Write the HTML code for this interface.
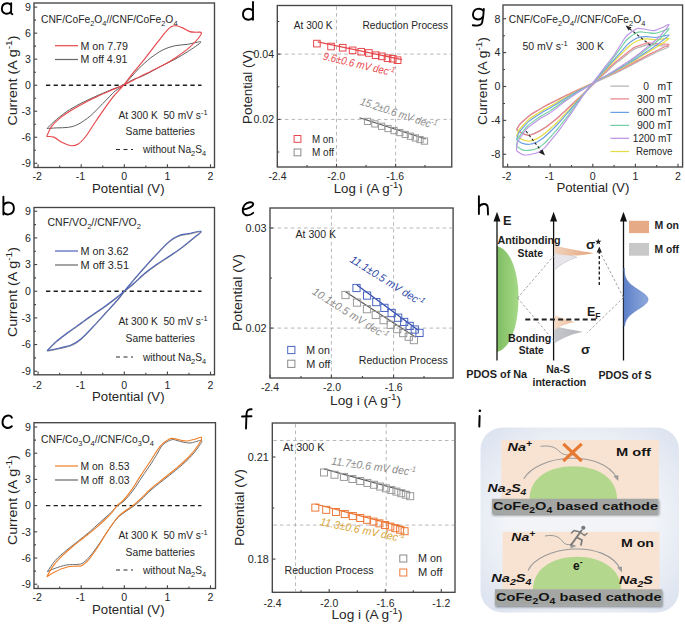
<!DOCTYPE html>
<html><head><meta charset="utf-8"><style>html,body{margin:0;padding:0;background:#fff;width:685px;height:624px;overflow:hidden}svg text{font-family:"Liberation Sans",sans-serif}</style></head><body>
<svg width="685" height="624" viewBox="0 0 685 624" style="display:block">
<rect width="685" height="624" fill="#ffffff"/>
<rect x="34" y="3" width="180.5" height="164.5" fill="none" stroke="#454545" stroke-width="1.35"/>
<line x1="38.1" y1="167.5" x2="38.1" y2="164.3" stroke="#454545" stroke-width="1.1"/>
<line x1="81.2" y1="167.5" x2="81.2" y2="164.3" stroke="#454545" stroke-width="1.1"/>
<line x1="124.3" y1="167.5" x2="124.3" y2="164.3" stroke="#454545" stroke-width="1.1"/>
<line x1="167.4" y1="167.5" x2="167.4" y2="164.3" stroke="#454545" stroke-width="1.1"/>
<line x1="210.5" y1="167.5" x2="210.5" y2="164.3" stroke="#454545" stroke-width="1.1"/>
<line x1="59.65" y1="167.5" x2="59.65" y2="165.5" stroke="#454545" stroke-width="1.1"/>
<line x1="102.75" y1="167.5" x2="102.75" y2="165.5" stroke="#454545" stroke-width="1.1"/>
<line x1="145.85" y1="167.5" x2="145.85" y2="165.5" stroke="#454545" stroke-width="1.1"/>
<line x1="188.95" y1="167.5" x2="188.95" y2="165.5" stroke="#454545" stroke-width="1.1"/>
<line x1="34" y1="163.28" x2="37.2" y2="163.28" stroke="#454545" stroke-width="1.1"/>
<line x1="34" y1="137.25" x2="37.2" y2="137.25" stroke="#454545" stroke-width="1.1"/>
<line x1="34" y1="111.23" x2="37.2" y2="111.23" stroke="#454545" stroke-width="1.1"/>
<line x1="34" y1="85.2" x2="37.2" y2="85.2" stroke="#454545" stroke-width="1.1"/>
<line x1="34" y1="59.17" x2="37.2" y2="59.17" stroke="#454545" stroke-width="1.1"/>
<line x1="34" y1="33.15" x2="37.2" y2="33.15" stroke="#454545" stroke-width="1.1"/>
<line x1="34" y1="7.12" x2="37.2" y2="7.12" stroke="#454545" stroke-width="1.1"/>
<line x1="34" y1="150.26" x2="36" y2="150.26" stroke="#454545" stroke-width="1.1"/>
<line x1="34" y1="124.24" x2="36" y2="124.24" stroke="#454545" stroke-width="1.1"/>
<line x1="34" y1="98.21" x2="36" y2="98.21" stroke="#454545" stroke-width="1.1"/>
<line x1="34" y1="72.19" x2="36" y2="72.19" stroke="#454545" stroke-width="1.1"/>
<line x1="34" y1="46.16" x2="36" y2="46.16" stroke="#454545" stroke-width="1.1"/>
<line x1="34" y1="20.14" x2="36" y2="20.14" stroke="#454545" stroke-width="1.1"/>
<text x="30.8" y="167.09" font-size="10.6" text-anchor="end" fill="#262626">-9</text>
<text x="30.8" y="141.07" font-size="10.6" text-anchor="end" fill="#262626">-6</text>
<text x="30.8" y="115.04" font-size="10.6" text-anchor="end" fill="#262626">-3</text>
<text x="30.8" y="89.02" font-size="10.6" text-anchor="end" fill="#262626">0</text>
<text x="30.8" y="62.99" font-size="10.6" text-anchor="end" fill="#262626">3</text>
<text x="30.8" y="36.97" font-size="10.6" text-anchor="end" fill="#262626">6</text>
<text x="30.8" y="10.94" font-size="10.6" text-anchor="end" fill="#262626">9</text>
<text x="37.3" y="180.12" font-size="10.6" text-anchor="middle" fill="#262626">-2</text>
<text x="80.4" y="180.12" font-size="10.6" text-anchor="middle" fill="#262626">-1</text>
<text x="124.3" y="180.12" font-size="10.6" text-anchor="middle" fill="#262626">0</text>
<text x="167.4" y="180.12" font-size="10.6" text-anchor="middle" fill="#262626">1</text>
<text x="210.5" y="180.12" font-size="10.6" text-anchor="middle" fill="#262626">2</text>
<text x="128.3" y="192.95" font-size="13.2" text-anchor="middle" fill="#262626" textLength="72.5" lengthAdjust="spacingAndGlyphs">Potential (V)</text>
<text x="17.35" y="80.5" font-size="13.2" text-anchor="middle" fill="#262626" transform="rotate(-90 17.35 80.5)" textLength="90" lengthAdjust="spacingAndGlyphs">Current (A g<tspan font-size="9.5" baseline-shift="5.02">-1</tspan>)</text>
<text x="41" y="23.09" font-size="10.8" fill="#262626" textLength="136.5" lengthAdjust="spacingAndGlyphs">CNF/CoFe<tspan font-size="7.78" baseline-shift="-3.02">2</tspan>O<tspan font-size="7.78" baseline-shift="-3.02">4</tspan>//CNF/CoFe<tspan font-size="7.78" baseline-shift="-3.02">2</tspan>O<tspan font-size="7.78" baseline-shift="-3.02">4</tspan></text>
<line x1="55" y1="45.7" x2="78" y2="45.7" stroke="#e8474c" stroke-width="1.2"/>
<text x="80.5" y="49.59" font-size="10.8" text-anchor="start" fill="#262626" textLength="47.5" lengthAdjust="spacingAndGlyphs">M on 7.79</text>
<line x1="55" y1="59.5" x2="78" y2="59.5" stroke="#666666" stroke-width="1.2"/>
<text x="80.5" y="63.39" font-size="10.8" text-anchor="start" fill="#262626" textLength="47" lengthAdjust="spacingAndGlyphs">M off 4.91</text>
<line x1="46" y1="85.2" x2="201.5" y2="85.2" stroke="#1e1e1e" stroke-width="1.4" stroke-dasharray="4.3 3.3"/>
<text x="118.5" y="118.69" font-size="10.8" fill="#262626" textLength="89" lengthAdjust="spacingAndGlyphs">At 300 K&#160;&#160;50 mV s<tspan font-size="7.78" baseline-shift="4.1">-1</tspan></text>
<text x="125.5" y="134.89" font-size="10.8" text-anchor="start" fill="#262626" textLength="69.5" lengthAdjust="spacingAndGlyphs">Same batteries</text>
<line x1="116" y1="149.5" x2="133" y2="149.5" stroke="#2a2a2a" stroke-width="1.1" stroke-dasharray="4 3.5"/>
<text x="143" y="153.39" font-size="10.8" fill="#262626" textLength="63" lengthAdjust="spacingAndGlyphs">without Na<tspan font-size="7.78" baseline-shift="-3.02">2</tspan>S<tspan font-size="7.78" baseline-shift="-3.02">4</tspan></text>
<rect x="34" y="207.5" width="180.5" height="167.3" fill="none" stroke="#454545" stroke-width="1.35"/>
<line x1="38.1" y1="374.8" x2="38.1" y2="371.6" stroke="#454545" stroke-width="1.1"/>
<line x1="81.2" y1="374.8" x2="81.2" y2="371.6" stroke="#454545" stroke-width="1.1"/>
<line x1="124.3" y1="374.8" x2="124.3" y2="371.6" stroke="#454545" stroke-width="1.1"/>
<line x1="167.4" y1="374.8" x2="167.4" y2="371.6" stroke="#454545" stroke-width="1.1"/>
<line x1="210.5" y1="374.8" x2="210.5" y2="371.6" stroke="#454545" stroke-width="1.1"/>
<line x1="59.65" y1="374.8" x2="59.65" y2="372.8" stroke="#454545" stroke-width="1.1"/>
<line x1="102.75" y1="374.8" x2="102.75" y2="372.8" stroke="#454545" stroke-width="1.1"/>
<line x1="145.85" y1="374.8" x2="145.85" y2="372.8" stroke="#454545" stroke-width="1.1"/>
<line x1="188.95" y1="374.8" x2="188.95" y2="372.8" stroke="#454545" stroke-width="1.1"/>
<line x1="34" y1="371.25" x2="37.2" y2="371.25" stroke="#454545" stroke-width="1.1"/>
<line x1="34" y1="344.58" x2="37.2" y2="344.58" stroke="#454545" stroke-width="1.1"/>
<line x1="34" y1="317.92" x2="37.2" y2="317.92" stroke="#454545" stroke-width="1.1"/>
<line x1="34" y1="291.25" x2="37.2" y2="291.25" stroke="#454545" stroke-width="1.1"/>
<line x1="34" y1="264.58" x2="37.2" y2="264.58" stroke="#454545" stroke-width="1.1"/>
<line x1="34" y1="237.92" x2="37.2" y2="237.92" stroke="#454545" stroke-width="1.1"/>
<line x1="34" y1="211.25" x2="37.2" y2="211.25" stroke="#454545" stroke-width="1.1"/>
<line x1="34" y1="357.92" x2="36" y2="357.92" stroke="#454545" stroke-width="1.1"/>
<line x1="34" y1="331.25" x2="36" y2="331.25" stroke="#454545" stroke-width="1.1"/>
<line x1="34" y1="304.58" x2="36" y2="304.58" stroke="#454545" stroke-width="1.1"/>
<line x1="34" y1="277.92" x2="36" y2="277.92" stroke="#454545" stroke-width="1.1"/>
<line x1="34" y1="251.25" x2="36" y2="251.25" stroke="#454545" stroke-width="1.1"/>
<line x1="34" y1="224.58" x2="36" y2="224.58" stroke="#454545" stroke-width="1.1"/>
<text x="30.8" y="375.07" font-size="10.6" text-anchor="end" fill="#262626">-9</text>
<text x="30.8" y="348.4" font-size="10.6" text-anchor="end" fill="#262626">-6</text>
<text x="30.8" y="321.73" font-size="10.6" text-anchor="end" fill="#262626">-3</text>
<text x="30.8" y="295.07" font-size="10.6" text-anchor="end" fill="#262626">0</text>
<text x="30.8" y="268.4" font-size="10.6" text-anchor="end" fill="#262626">3</text>
<text x="30.8" y="241.73" font-size="10.6" text-anchor="end" fill="#262626">6</text>
<text x="30.8" y="215.07" font-size="10.6" text-anchor="end" fill="#262626">9</text>
<text x="37.3" y="389.02" font-size="10.6" text-anchor="middle" fill="#262626">-2</text>
<text x="80.4" y="389.02" font-size="10.6" text-anchor="middle" fill="#262626">-1</text>
<text x="124.3" y="389.02" font-size="10.6" text-anchor="middle" fill="#262626">0</text>
<text x="167.4" y="389.02" font-size="10.6" text-anchor="middle" fill="#262626">1</text>
<text x="210.5" y="389.02" font-size="10.6" text-anchor="middle" fill="#262626">2</text>
<text x="128.3" y="400.95" font-size="13.2" text-anchor="middle" fill="#262626" textLength="72.5" lengthAdjust="spacingAndGlyphs">Potential (V)</text>
<text x="17.35" y="292" font-size="13.2" text-anchor="middle" fill="#262626" transform="rotate(-90 17.35 292)" textLength="90" lengthAdjust="spacingAndGlyphs">Current (A g<tspan font-size="9.5" baseline-shift="5.02">-1</tspan>)</text>
<text x="47.5" y="226.39" font-size="10.8" fill="#262626" textLength="93.5" lengthAdjust="spacingAndGlyphs">CNF/VO<tspan font-size="7.78" baseline-shift="-3.02">2</tspan>//CNF/VO<tspan font-size="7.78" baseline-shift="-3.02">2</tspan></text>
<line x1="55" y1="251" x2="78" y2="251" stroke="#4b62b8" stroke-width="1.2"/>
<text x="80.5" y="254.89" font-size="10.8" text-anchor="start" fill="#262626" textLength="48" lengthAdjust="spacingAndGlyphs">M on&#160;3.62</text>
<line x1="55" y1="265" x2="78" y2="265" stroke="#6a6a6a" stroke-width="1.2"/>
<text x="80.5" y="268.89" font-size="10.8" text-anchor="start" fill="#262626" textLength="48.5" lengthAdjust="spacingAndGlyphs">M off&#160;3.51</text>
<line x1="46" y1="291.25" x2="201.5" y2="291.25" stroke="#1e1e1e" stroke-width="1.4" stroke-dasharray="4.3 3.3"/>
<text x="118.5" y="325.39" font-size="10.8" fill="#262626" textLength="89" lengthAdjust="spacingAndGlyphs">At 300 K&#160;&#160;50 mV s<tspan font-size="7.78" baseline-shift="4.1">-1</tspan></text>
<text x="125.5" y="341.89" font-size="10.8" text-anchor="start" fill="#262626" textLength="69.5" lengthAdjust="spacingAndGlyphs">Same batteries</text>
<line x1="116" y1="357" x2="133" y2="357" stroke="#2a2a2a" stroke-width="1.1" stroke-dasharray="4 3.5"/>
<text x="143" y="360.89" font-size="10.8" fill="#262626" textLength="63" lengthAdjust="spacingAndGlyphs">without Na<tspan font-size="7.78" baseline-shift="-3.02">2</tspan>S<tspan font-size="7.78" baseline-shift="-3.02">4</tspan></text>
<rect x="34" y="422.7" width="181.5" height="165.8" fill="none" stroke="#454545" stroke-width="1.35"/>
<line x1="38.1" y1="588.5" x2="38.1" y2="585.3" stroke="#454545" stroke-width="1.1"/>
<line x1="81.2" y1="588.5" x2="81.2" y2="585.3" stroke="#454545" stroke-width="1.1"/>
<line x1="124.3" y1="588.5" x2="124.3" y2="585.3" stroke="#454545" stroke-width="1.1"/>
<line x1="167.4" y1="588.5" x2="167.4" y2="585.3" stroke="#454545" stroke-width="1.1"/>
<line x1="210.5" y1="588.5" x2="210.5" y2="585.3" stroke="#454545" stroke-width="1.1"/>
<line x1="59.65" y1="588.5" x2="59.65" y2="586.5" stroke="#454545" stroke-width="1.1"/>
<line x1="102.75" y1="588.5" x2="102.75" y2="586.5" stroke="#454545" stroke-width="1.1"/>
<line x1="145.85" y1="588.5" x2="145.85" y2="586.5" stroke="#454545" stroke-width="1.1"/>
<line x1="188.95" y1="588.5" x2="188.95" y2="586.5" stroke="#454545" stroke-width="1.1"/>
<line x1="34" y1="584.22" x2="37.2" y2="584.22" stroke="#454545" stroke-width="1.1"/>
<line x1="34" y1="558.02" x2="37.2" y2="558.02" stroke="#454545" stroke-width="1.1"/>
<line x1="34" y1="531.81" x2="37.2" y2="531.81" stroke="#454545" stroke-width="1.1"/>
<line x1="34" y1="505.6" x2="37.2" y2="505.6" stroke="#454545" stroke-width="1.1"/>
<line x1="34" y1="479.39" x2="37.2" y2="479.39" stroke="#454545" stroke-width="1.1"/>
<line x1="34" y1="453.18" x2="37.2" y2="453.18" stroke="#454545" stroke-width="1.1"/>
<line x1="34" y1="426.98" x2="37.2" y2="426.98" stroke="#454545" stroke-width="1.1"/>
<line x1="34" y1="571.12" x2="36" y2="571.12" stroke="#454545" stroke-width="1.1"/>
<line x1="34" y1="544.91" x2="36" y2="544.91" stroke="#454545" stroke-width="1.1"/>
<line x1="34" y1="518.7" x2="36" y2="518.7" stroke="#454545" stroke-width="1.1"/>
<line x1="34" y1="492.5" x2="36" y2="492.5" stroke="#454545" stroke-width="1.1"/>
<line x1="34" y1="466.29" x2="36" y2="466.29" stroke="#454545" stroke-width="1.1"/>
<line x1="34" y1="440.08" x2="36" y2="440.08" stroke="#454545" stroke-width="1.1"/>
<text x="30.8" y="588.04" font-size="10.6" text-anchor="end" fill="#262626">-9</text>
<text x="30.8" y="561.83" font-size="10.6" text-anchor="end" fill="#262626">-6</text>
<text x="30.8" y="535.62" font-size="10.6" text-anchor="end" fill="#262626">-3</text>
<text x="30.8" y="509.42" font-size="10.6" text-anchor="end" fill="#262626">0</text>
<text x="30.8" y="483.21" font-size="10.6" text-anchor="end" fill="#262626">3</text>
<text x="30.8" y="457" font-size="10.6" text-anchor="end" fill="#262626">6</text>
<text x="30.8" y="430.79" font-size="10.6" text-anchor="end" fill="#262626">9</text>
<text x="37.3" y="601.02" font-size="10.6" text-anchor="middle" fill="#262626">-2</text>
<text x="80.4" y="601.02" font-size="10.6" text-anchor="middle" fill="#262626">-1</text>
<text x="124.3" y="601.02" font-size="10.6" text-anchor="middle" fill="#262626">0</text>
<text x="167.4" y="601.02" font-size="10.6" text-anchor="middle" fill="#262626">1</text>
<text x="210.5" y="601.02" font-size="10.6" text-anchor="middle" fill="#262626">2</text>
<text x="128.3" y="613.95" font-size="13.2" text-anchor="middle" fill="#262626" textLength="72.5" lengthAdjust="spacingAndGlyphs">Potential (V)</text>
<text x="17.35" y="500" font-size="13.2" text-anchor="middle" fill="#262626" transform="rotate(-90 17.35 500)" textLength="90" lengthAdjust="spacingAndGlyphs">Current (A g<tspan font-size="9.5" baseline-shift="5.02">-1</tspan>)</text>
<text x="41" y="442.89" font-size="10.8" fill="#262626" textLength="113" lengthAdjust="spacingAndGlyphs">CNF/Co<tspan font-size="7.78" baseline-shift="-3.02">3</tspan>O<tspan font-size="7.78" baseline-shift="-3.02">4</tspan>//CNF/Co<tspan font-size="7.78" baseline-shift="-3.02">3</tspan>O<tspan font-size="7.78" baseline-shift="-3.02">4</tspan></text>
<line x1="55" y1="466" x2="78" y2="466" stroke="#ef7f2a" stroke-width="1.2"/>
<text x="80.5" y="469.89" font-size="10.8" text-anchor="start" fill="#262626" textLength="49" lengthAdjust="spacingAndGlyphs">M on&#160;&#160;8.53</text>
<line x1="55" y1="480" x2="78" y2="480" stroke="#6a6a6a" stroke-width="1.2"/>
<text x="80.5" y="483.89" font-size="10.8" text-anchor="start" fill="#262626" textLength="49" lengthAdjust="spacingAndGlyphs">M off&#160;&#160;8.03</text>
<line x1="46" y1="505.6" x2="201.5" y2="505.6" stroke="#1e1e1e" stroke-width="1.4" stroke-dasharray="4.3 3.3"/>
<text x="118.5" y="538.89" font-size="10.8" fill="#262626" textLength="89" lengthAdjust="spacingAndGlyphs">At 300 K&#160;&#160;50 mV s<tspan font-size="7.78" baseline-shift="4.1">-1</tspan></text>
<text x="125.5" y="555.89" font-size="10.8" text-anchor="start" fill="#262626" textLength="69.5" lengthAdjust="spacingAndGlyphs">Same batteries</text>
<line x1="116" y1="570" x2="133" y2="570" stroke="#2a2a2a" stroke-width="1.1" stroke-dasharray="4 3.5"/>
<text x="143" y="573.89" font-size="10.8" fill="#262626" textLength="63" lengthAdjust="spacingAndGlyphs">without Na<tspan font-size="7.78" baseline-shift="-3.02">2</tspan>S<tspan font-size="7.78" baseline-shift="-3.02">4</tspan></text>
<path d="M47.1,128.5 C48.63,128.4 52.73,128.1 56.3,127.9 C59.87,127.7 64.83,127.92 68.5,127.3 C72.17,126.68 74.62,126.13 78.3,124.2 C81.98,122.27 86.5,119.17 90.6,115.7 C94.7,112.23 98.82,107.5 102.9,103.4 C106.98,99.3 111.63,94.15 115.1,91.1 C118.57,88.05 119.82,88.78 123.7,85.1 C127.58,81.42 133.9,73.53 138.4,69 C142.9,64.47 146.62,61.08 150.7,57.9 C154.78,54.72 158.82,51.93 162.9,49.9 C166.98,47.87 171.12,46.62 175.2,45.7 C179.28,44.78 183.12,45.02 187.4,44.4 C191.68,43.78 200.9,40.77 200.9,42 C200.9,43.23 191.68,48.95 187.4,51.8 C183.12,54.65 179.68,56.65 175.2,59.1 C170.72,61.55 165.62,63.83 160.5,66.5 C155.38,69.17 149.2,72.85 144.5,75.1 C139.8,77.35 135.77,78.33 132.3,80 C128.83,81.67 126.77,83.65 123.7,85.1 C120.63,86.55 117.98,87.08 113.9,88.7 C109.82,90.32 104.72,92.35 99.2,94.8 C93.68,97.25 86.32,100.53 80.8,103.4 C75.28,106.27 70.6,108.93 66.1,112 C61.6,115.07 56.97,119.05 53.8,121.8 C50.63,124.55 48.22,127.38 47.1,128.5" stroke="#5e5e5e" stroke-width="1" fill="none"/>
<path d="M46.7,136.5 C47.88,136.6 51.18,136.08 53.8,137.1 C56.42,138.12 59.53,141.17 62.4,142.6 C65.27,144.03 68.35,145.48 71,145.7 C73.65,145.92 75.85,145.43 78.3,143.9 C80.75,142.37 83.25,139.57 85.7,136.5 C88.15,133.43 90.13,129.78 93,125.5 C95.87,121.22 99.62,115.5 102.9,110.8 C106.18,106.1 110.1,100.63 112.7,97.3 C115.3,93.97 116.67,92.83 118.5,90.8 C120.33,88.77 121.4,87.92 123.7,85.1 C126,82.28 128.83,78.23 132.3,73.9 C135.77,69.57 140.42,64.22 144.5,59.1 C148.58,53.98 153.12,47.9 156.8,43.2 C160.48,38.5 164.15,33.67 166.6,30.9 C169.05,28.13 169.87,27.45 171.5,26.6 C173.13,25.75 174.57,25.58 176.4,25.8 C178.23,26.02 180.25,26.93 182.5,27.9 C184.75,28.87 187.65,30.88 189.9,31.6 C192.15,32.32 194.07,32 196,32.2 C197.93,32.4 201.28,31.58 201.5,32.8 C201.72,34.02 199.43,36.95 197.3,39.5 C195.17,42.05 192.38,45.03 188.7,48.1 C185.02,51.17 179.5,55.03 175.2,57.9 C170.9,60.77 166.98,63.05 162.9,65.3 C158.82,67.55 154.78,69.37 150.7,71.4 C146.62,73.43 142.9,75.22 138.4,77.5 C133.9,79.78 128.8,82.73 123.7,85.1 C118.6,87.47 112.92,89.47 107.8,91.7 C102.68,93.93 98.52,95.73 93,98.5 C87.48,101.27 80.22,105.03 74.7,108.3 C69.18,111.57 63.78,115.03 59.9,118.1 C56.02,121.17 53.6,123.63 51.4,126.7 C49.2,129.77 47.48,134.87 46.7,136.5" stroke="#e8474c" stroke-width="1.15" fill="none"/>
<path d="M47.3,351.2 C48.83,350.9 52.52,350.32 56.5,349.4 C60.48,348.48 67.12,347.33 71.2,345.7 C75.28,344.07 77.33,342.67 81,339.6 C84.67,336.53 89.12,331.6 93.2,327.3 C97.28,323 101.4,318.3 105.5,313.8 C109.6,309.3 114.65,303.97 117.8,300.3 C120.95,296.63 121.83,295 124.4,291.8 C126.97,288.6 129.82,285.08 133.2,281.1 C136.58,277.12 140.73,272.33 144.7,267.9 C148.67,263.47 152.92,258.78 157,254.5 C161.08,250.22 165.52,245.27 169.2,242.2 C172.88,239.13 175.82,237.43 179.1,236.1 C182.38,234.77 185.23,234.92 188.9,234.2 C192.57,233.48 200.28,231.08 201.1,231.8 C201.92,232.52 197.07,235.73 193.8,238.5 C190.53,241.27 185.6,245.33 181.5,248.4 C177.4,251.47 173.28,254.15 169.2,256.9 C165.12,259.65 161.08,262.03 157,264.9 C152.92,267.77 148.67,270.82 144.7,274.1 C140.73,277.38 136.58,281.65 133.2,284.6 C129.82,287.55 127.57,289.22 124.4,291.8 C121.23,294.38 117.57,297.47 114.2,300.1 C110.83,302.73 107.7,305.1 104.2,307.6 C100.7,310.1 97.07,312.4 93.2,315.1 C89.33,317.8 85.08,320.88 81,323.8 C76.92,326.72 72.78,329.57 68.7,332.6 C64.62,335.63 60.07,338.9 56.5,342 C52.93,345.1 48.83,349.67 47.3,351.2" stroke="#8a8a8a" stroke-width="1" fill="none"/>
<path d="M47.1,350.6 C48.63,350.3 52.32,349.72 56.3,348.8 C60.28,347.88 66.92,346.73 71,345.1 C75.08,343.47 77.13,342.07 80.8,339 C84.47,335.93 88.92,331 93,326.7 C97.08,322.4 101.2,317.7 105.3,313.2 C109.4,308.7 114.45,303.37 117.6,299.7 C120.75,296.03 121.63,294.4 124.2,291.2 C126.77,288 129.62,284.48 133,280.5 C136.38,276.52 140.53,271.73 144.5,267.3 C148.47,262.87 152.72,258.18 156.8,253.9 C160.88,249.62 165.32,244.67 169,241.6 C172.68,238.53 175.62,236.83 178.9,235.5 C182.18,234.17 185.03,234.32 188.7,233.6 C192.37,232.88 200.08,230.48 200.9,231.2 C201.72,231.92 196.87,235.13 193.6,237.9 C190.33,240.67 185.4,244.73 181.3,247.8 C177.2,250.87 173.08,253.55 169,256.3 C164.92,259.05 160.88,261.43 156.8,264.3 C152.72,267.17 148.47,270.22 144.5,273.5 C140.53,276.78 136.38,281.05 133,284 C129.62,286.95 127.37,288.62 124.2,291.2 C121.03,293.78 117.37,296.87 114,299.5 C110.63,302.13 107.5,304.5 104,307 C100.5,309.5 96.87,311.8 93,314.5 C89.13,317.2 84.88,320.28 80.8,323.2 C76.72,326.12 72.58,328.97 68.5,332 C64.42,335.03 59.87,338.3 56.3,341.4 C52.73,344.5 48.63,349.07 47.1,350.6" stroke="#4b62b8" stroke-width="1.05" fill="none"/>
<path d="M47.4,571.7 C48.7,569.83 52.03,564.05 55.2,560.5 C58.37,556.95 62.65,553.58 66.4,550.4 C70.15,547.22 73.95,544.4 77.7,541.4 C81.45,538.4 85.17,535.58 88.9,532.4 C92.63,529.22 96.37,525.67 100.1,522.3 C103.83,518.93 108.47,514.92 111.3,512.2 C114.13,509.48 114.98,507.87 117.1,506 C119.22,504.13 121.35,503.58 124,501 C126.65,498.42 130,494.5 133,490.5 C136,486.5 138.92,481.58 142,477 C145.08,472.42 149.03,466.75 151.5,463 C153.97,459.25 154.9,457.55 156.8,454.5 C158.7,451.45 160.45,447.15 162.9,444.7 C165.35,442.25 169.15,440.5 171.5,439.8 C173.85,439.1 174.95,440.08 177,440.5 C179.05,440.92 181.45,441.9 183.8,442.3 C186.15,442.7 188.15,443.22 191.1,442.9 C194.05,442.58 200.22,439.8 201.5,440.4 C202.78,441 200.88,443.48 198.8,446.5 C196.72,449.52 192.88,454.5 189,458.5 C185.12,462.5 179.8,466.88 175.5,470.5 C171.2,474.12 167.28,476.95 163.2,480.2 C159.12,483.45 154.7,486.73 151,490 C147.3,493.27 143.97,497.05 141,499.8 C138.03,502.55 135.88,504.47 133.2,506.5 C130.52,508.53 127.6,510 124.9,512 C122.2,514 119.63,515.65 117,518.5 C114.37,521.35 111.92,525.1 109.1,529.1 C106.28,533.1 103.1,538.2 100.1,542.5 C97.1,546.8 93.9,551.53 91.1,554.9 C88.3,558.27 85.53,561.12 83.3,562.7 C81.07,564.28 80.52,564.02 77.7,564.4 C74.88,564.78 70.15,564.35 66.4,565 C62.65,565.65 58.37,567.18 55.2,568.3 C52.03,569.42 48.7,571.13 47.4,571.7" stroke="#6a6a6a" stroke-width="1" fill="none"/>
<path d="M46.8,576.7 C47.83,574.93 50.67,569.37 53,566.1 C55.33,562.83 57.63,560.28 60.8,557.1 C63.97,553.92 68.25,550.18 72,547 C75.75,543.82 79.55,540.98 83.3,538 C87.05,535.02 90.77,532.27 94.5,529.1 C98.23,525.93 102.78,521.77 105.7,519 C108.62,516.23 110.1,514.73 112,512.5 C113.9,510.27 115.15,507.68 117.1,505.6 C119.05,503.52 121.17,502.78 123.7,500 C126.23,497.22 129.45,493 132.3,488.9 C135.15,484.8 137.73,480.1 140.8,475.4 C143.87,470.7 147.42,465.62 150.7,460.7 C153.98,455.78 157.45,449.48 160.5,445.9 C163.55,442.32 166.75,440.42 169,439.2 C171.25,437.98 171.95,438.4 174,438.6 C176.05,438.8 179.07,440 181.3,440.4 C183.53,440.8 185.15,441.2 187.4,441 C189.65,440.8 192.45,439.8 194.8,439.2 C197.15,438.6 200.88,436.48 201.5,437.4 C202.12,438.32 200.63,441.43 198.5,444.7 C196.37,447.97 192.58,452.92 188.7,457 C184.82,461.08 179.5,465.53 175.2,469.2 C170.9,472.87 166.98,475.72 162.9,479 C158.82,482.28 154.38,485.62 150.7,488.9 C147.02,492.18 143.77,495.9 140.8,498.7 C137.83,501.5 135.58,503.6 132.9,505.7 C130.22,507.8 127.35,509.25 124.7,511.3 C122.05,513.35 119.98,514.48 117,518 C114.02,521.52 110,527.57 106.8,532.4 C103.6,537.23 100.78,542.5 97.8,547 C94.82,551.5 91.52,556.32 88.9,559.4 C86.28,562.48 83.97,564.38 82.1,565.5 C80.23,566.62 80.32,565.82 77.7,566.1 C75.08,566.38 70.15,566.27 66.4,567.2 C62.65,568.13 58.47,570.12 55.2,571.7 C51.93,573.28 48.2,575.87 46.8,576.7" stroke="#ef7f2a" stroke-width="1.15" fill="none"/>
<line x1="336.5" y1="6.5" x2="336.5" y2="166" stroke="#b0b0b0" stroke-width="0.9" stroke-dasharray="3.6 3"/>
<line x1="395.6" y1="6.5" x2="395.6" y2="166" stroke="#b0b0b0" stroke-width="0.9" stroke-dasharray="3.6 3"/>
<line x1="278.3" y1="54.1" x2="450.75" y2="54.1" stroke="#b0b0b0" stroke-width="0.9" stroke-dasharray="3.6 3"/>
<line x1="278.3" y1="119.4" x2="450.75" y2="119.4" stroke="#b0b0b0" stroke-width="0.9" stroke-dasharray="3.6 3"/>
<rect x="277.3" y="5.5" width="174.45" height="161.5" fill="none" stroke="#454545" stroke-width="1.35"/>
<line x1="277.5" y1="167" x2="277.5" y2="163.8" stroke="#454545" stroke-width="1.1"/>
<line x1="336.5" y1="167" x2="336.5" y2="163.8" stroke="#454545" stroke-width="1.1"/>
<line x1="395.6" y1="167" x2="395.6" y2="163.8" stroke="#454545" stroke-width="1.1"/>
<line x1="307" y1="167" x2="307" y2="165" stroke="#454545" stroke-width="1.1"/>
<line x1="366" y1="167" x2="366" y2="165" stroke="#454545" stroke-width="1.1"/>
<line x1="425" y1="167" x2="425" y2="165" stroke="#454545" stroke-width="1.1"/>
<line x1="277.3" y1="54.1" x2="280.5" y2="54.1" stroke="#454545" stroke-width="1.1"/>
<line x1="277.3" y1="119.4" x2="280.5" y2="119.4" stroke="#454545" stroke-width="1.1"/>
<line x1="277.3" y1="21.5" x2="279.3" y2="21.5" stroke="#454545" stroke-width="1.1"/>
<line x1="277.3" y1="86.75" x2="279.3" y2="86.75" stroke="#454545" stroke-width="1.1"/>
<line x1="277.3" y1="152" x2="279.3" y2="152" stroke="#454545" stroke-width="1.1"/>
<text x="274" y="57.82" font-size="10.6" text-anchor="end" fill="#262626" textLength="20.5" lengthAdjust="spacingAndGlyphs">0.04</text>
<text x="274" y="123.32" font-size="10.6" text-anchor="end" fill="#262626" textLength="20.5" lengthAdjust="spacingAndGlyphs">0.02</text>
<text x="277.5" y="180.12" font-size="10.6" text-anchor="middle" fill="#262626" textLength="18" lengthAdjust="spacingAndGlyphs">-2.4</text>
<text x="336.3" y="180.12" font-size="10.6" text-anchor="middle" fill="#262626" textLength="18" lengthAdjust="spacingAndGlyphs">-2.0</text>
<text x="395.2" y="180.12" font-size="10.6" text-anchor="middle" fill="#262626" textLength="18" lengthAdjust="spacingAndGlyphs">-1.6</text>
<text x="368.2" y="192.95" font-size="13.2" text-anchor="middle" fill="#262626" textLength="69" lengthAdjust="spacingAndGlyphs">Log i (A g<tspan font-size="9.5" baseline-shift="5.02">-1</tspan>)</text>
<text x="251.75" y="87" font-size="13.2" text-anchor="middle" fill="#262626" transform="rotate(-90 251.75 87)" textLength="74" lengthAdjust="spacingAndGlyphs">Potential (V)</text>
<text x="293.8" y="28.89" font-size="10.8" text-anchor="start" fill="#262626" textLength="38.8" lengthAdjust="spacingAndGlyphs">At 300 K</text>
<text x="362.5" y="28.89" font-size="10.8" text-anchor="start" fill="#262626" textLength="85.5" lengthAdjust="spacingAndGlyphs">Reduction Process</text>
<line x1="317.7" y1="41.8" x2="402" y2="59.7" stroke="#e8474c" stroke-width="1.2"/>
<rect x="313.6" y="40.3" width="6.6" height="6.6" fill="none" stroke="#e8474c" stroke-width="1"/>
<rect x="327.75" y="43.23" width="6.6" height="6.6" fill="none" stroke="#e8474c" stroke-width="1"/>
<rect x="339.4" y="44.44" width="6.6" height="6.6" fill="none" stroke="#e8474c" stroke-width="1"/>
<rect x="349.31" y="47.06" width="6.6" height="6.6" fill="none" stroke="#e8474c" stroke-width="1"/>
<rect x="357.92" y="48.43" width="6.6" height="6.6" fill="none" stroke="#e8474c" stroke-width="1"/>
<rect x="365.55" y="49.67" width="6.6" height="6.6" fill="none" stroke="#e8474c" stroke-width="1"/>
<rect x="372.38" y="51.9" width="6.6" height="6.6" fill="none" stroke="#e8474c" stroke-width="1"/>
<rect x="378.58" y="53.04" width="6.6" height="6.6" fill="none" stroke="#e8474c" stroke-width="1"/>
<rect x="384.24" y="54.89" width="6.6" height="6.6" fill="none" stroke="#e8474c" stroke-width="1"/>
<rect x="389.46" y="55.48" width="6.6" height="6.6" fill="none" stroke="#e8474c" stroke-width="1"/>
<rect x="394.3" y="56.9" width="6.6" height="6.6" fill="none" stroke="#e8474c" stroke-width="1"/>
<text x="322.5" y="59.5" font-size="11" font-style="italic" fill="#e8474c" transform="rotate(13.5 322.5 59.5)" textLength="73" lengthAdjust="spacingAndGlyphs">9.6±0.6 mV dec<tspan font-size="7.92" baseline-shift="4.18">-1</tspan></text>
<line x1="359.5" y1="117.8" x2="425.9" y2="138.9" stroke="#555555" stroke-width="1.1"/>
<rect x="364.4" y="118.3" width="6.2" height="6.2" fill="none" stroke="#9a9a9a" stroke-width="1"/>
<rect x="371.7" y="120.82" width="6.2" height="6.2" fill="none" stroke="#9a9a9a" stroke-width="1"/>
<rect x="378.52" y="123.18" width="6.2" height="6.2" fill="none" stroke="#9a9a9a" stroke-width="1"/>
<rect x="384.93" y="125.4" width="6.2" height="6.2" fill="none" stroke="#9a9a9a" stroke-width="1"/>
<rect x="390.98" y="127.49" width="6.2" height="6.2" fill="none" stroke="#9a9a9a" stroke-width="1"/>
<rect x="396.69" y="129.46" width="6.2" height="6.2" fill="none" stroke="#9a9a9a" stroke-width="1"/>
<rect x="402.12" y="131.34" width="6.2" height="6.2" fill="none" stroke="#9a9a9a" stroke-width="1"/>
<rect x="407.28" y="133.12" width="6.2" height="6.2" fill="none" stroke="#9a9a9a" stroke-width="1"/>
<rect x="412.2" y="134.82" width="6.2" height="6.2" fill="none" stroke="#9a9a9a" stroke-width="1"/>
<rect x="416.9" y="136.44" width="6.2" height="6.2" fill="none" stroke="#9a9a9a" stroke-width="1"/>
<rect x="421.4" y="138" width="6.2" height="6.2" fill="none" stroke="#9a9a9a" stroke-width="1"/>
<text x="359.5" y="104.4" font-size="11" font-style="italic" fill="#8a8a8a" transform="rotate(18.4 359.5 104.4)" textLength="80" lengthAdjust="spacingAndGlyphs">15.2±0.6 mV dec<tspan font-size="7.92" baseline-shift="4.18">-1</tspan></text>
<rect x="294.1" y="135.5" width="6.8" height="6.8" fill="none" stroke="#e8474c" stroke-width="1"/>
<rect x="294.1" y="149" width="6.8" height="6.8" fill="none" stroke="#8a8a8a" stroke-width="1"/>
<text x="312" y="143.09" font-size="10.8" text-anchor="start" fill="#262626" textLength="21.7" lengthAdjust="spacingAndGlyphs">M on</text>
<text x="312" y="156.39" font-size="10.8" text-anchor="start" fill="#262626" textLength="22" lengthAdjust="spacingAndGlyphs">M off</text>
<line x1="331.4" y1="209" x2="331.4" y2="377" stroke="#b0b0b0" stroke-width="0.9" stroke-dasharray="3.6 3"/>
<line x1="393.6" y1="209" x2="393.6" y2="377" stroke="#b0b0b0" stroke-width="0.9" stroke-dasharray="3.6 3"/>
<line x1="271" y1="228" x2="452.1" y2="228" stroke="#b0b0b0" stroke-width="0.9" stroke-dasharray="3.6 3"/>
<line x1="271" y1="328.1" x2="452.1" y2="328.1" stroke="#b0b0b0" stroke-width="0.9" stroke-dasharray="3.6 3"/>
<rect x="270" y="208" width="183.1" height="170" fill="none" stroke="#454545" stroke-width="1.35"/>
<line x1="270" y1="378" x2="270" y2="374.8" stroke="#454545" stroke-width="1.1"/>
<line x1="331.4" y1="378" x2="331.4" y2="374.8" stroke="#454545" stroke-width="1.1"/>
<line x1="393.6" y1="378" x2="393.6" y2="374.8" stroke="#454545" stroke-width="1.1"/>
<line x1="301" y1="378" x2="301" y2="376" stroke="#454545" stroke-width="1.1"/>
<line x1="362.5" y1="378" x2="362.5" y2="376" stroke="#454545" stroke-width="1.1"/>
<line x1="424" y1="378" x2="424" y2="376" stroke="#454545" stroke-width="1.1"/>
<line x1="270" y1="228" x2="273.2" y2="228" stroke="#454545" stroke-width="1.1"/>
<line x1="270" y1="328.1" x2="273.2" y2="328.1" stroke="#454545" stroke-width="1.1"/>
<line x1="270" y1="278" x2="272" y2="278" stroke="#454545" stroke-width="1.1"/>
<text x="266.5" y="231.82" font-size="10.6" text-anchor="end" fill="#262626" textLength="21" lengthAdjust="spacingAndGlyphs">0.03</text>
<text x="266.5" y="332.22" font-size="10.6" text-anchor="end" fill="#262626" textLength="21" lengthAdjust="spacingAndGlyphs">0.02</text>
<text x="270" y="391.32" font-size="10.6" text-anchor="middle" fill="#262626" textLength="18" lengthAdjust="spacingAndGlyphs">-2.4</text>
<text x="332" y="391.32" font-size="10.6" text-anchor="middle" fill="#262626" textLength="18" lengthAdjust="spacingAndGlyphs">-2.0</text>
<text x="393.7" y="391.32" font-size="10.6" text-anchor="middle" fill="#262626" textLength="18" lengthAdjust="spacingAndGlyphs">-1.6</text>
<text x="365.6" y="404.95" font-size="13.2" text-anchor="middle" fill="#262626" textLength="71" lengthAdjust="spacingAndGlyphs">Log i (A g<tspan font-size="9.5" baseline-shift="5.02">-1</tspan>)</text>
<text x="242.25" y="292.5" font-size="13.2" text-anchor="middle" fill="#262626" transform="rotate(-90 242.25 292.5)" textLength="77" lengthAdjust="spacingAndGlyphs">Potential (V)</text>
<text x="295.5" y="238.19" font-size="10.8" text-anchor="start" fill="#262626" textLength="40.5" lengthAdjust="spacingAndGlyphs">At 300 K</text>
<text x="358.8" y="363.59" font-size="10.8" text-anchor="start" fill="#262626" textLength="89" lengthAdjust="spacingAndGlyphs">Reduction Process</text>
<line x1="345.5" y1="291.7" x2="415.7" y2="337.3" stroke="#555555" stroke-width="1.1"/>
<rect x="341.9" y="291.4" width="7.2" height="7.2" fill="none" stroke="#9a9a9a" stroke-width="1"/>
<rect x="353.41" y="298.99" width="7.2" height="7.2" fill="none" stroke="#9a9a9a" stroke-width="1"/>
<rect x="363.38" y="305.56" width="7.2" height="7.2" fill="none" stroke="#9a9a9a" stroke-width="1"/>
<rect x="372.17" y="311.36" width="7.2" height="7.2" fill="none" stroke="#9a9a9a" stroke-width="1"/>
<rect x="380.03" y="316.54" width="7.2" height="7.2" fill="none" stroke="#9a9a9a" stroke-width="1"/>
<rect x="387.15" y="321.23" width="7.2" height="7.2" fill="none" stroke="#9a9a9a" stroke-width="1"/>
<rect x="393.64" y="325.52" width="7.2" height="7.2" fill="none" stroke="#9a9a9a" stroke-width="1"/>
<rect x="399.62" y="329.46" width="7.2" height="7.2" fill="none" stroke="#9a9a9a" stroke-width="1"/>
<rect x="405.15" y="333.1" width="7.2" height="7.2" fill="none" stroke="#9a9a9a" stroke-width="1"/>
<rect x="410.3" y="336.5" width="7.2" height="7.2" fill="none" stroke="#9a9a9a" stroke-width="1"/>
<line x1="356.9" y1="285.1" x2="418.6" y2="330.6" stroke="#2d46a6" stroke-width="1.2"/>
<rect x="352.9" y="284.4" width="7.2" height="7.2" fill="none" stroke="#4a66c0" stroke-width="1"/>
<rect x="363.5" y="291.95" width="7.2" height="7.2" fill="none" stroke="#4a66c0" stroke-width="1"/>
<rect x="372.68" y="298.5" width="7.2" height="7.2" fill="none" stroke="#4a66c0" stroke-width="1"/>
<rect x="380.78" y="304.27" width="7.2" height="7.2" fill="none" stroke="#4a66c0" stroke-width="1"/>
<rect x="388.02" y="309.43" width="7.2" height="7.2" fill="none" stroke="#4a66c0" stroke-width="1"/>
<rect x="394.58" y="314.1" width="7.2" height="7.2" fill="none" stroke="#4a66c0" stroke-width="1"/>
<rect x="400.56" y="318.37" width="7.2" height="7.2" fill="none" stroke="#4a66c0" stroke-width="1"/>
<rect x="406.06" y="322.29" width="7.2" height="7.2" fill="none" stroke="#4a66c0" stroke-width="1"/>
<rect x="411.16" y="325.92" width="7.2" height="7.2" fill="none" stroke="#4a66c0" stroke-width="1"/>
<rect x="415.9" y="329.3" width="7.2" height="7.2" fill="none" stroke="#4a66c0" stroke-width="1"/>
<text x="349.3" y="261.4" font-size="11" font-style="italic" fill="#2d46a6" transform="rotate(32.3 349.3 261.4)" textLength="85" lengthAdjust="spacingAndGlyphs">11.1±0.5 mV dec<tspan font-size="7.92" baseline-shift="4.18">-1</tspan></text>
<text x="311.4" y="293.6" font-size="11" font-style="italic" fill="#8a8a8a" transform="rotate(32.1 311.4 293.6)" textLength="87" lengthAdjust="spacingAndGlyphs">10.1±0.5 mV dec<tspan font-size="7.92" baseline-shift="4.18">-1</tspan></text>
<rect x="287.7" y="346.4" width="7.2" height="7.2" fill="none" stroke="#4a66c0" stroke-width="1"/>
<rect x="287.7" y="360.2" width="7.2" height="7.2" fill="none" stroke="#8a8a8a" stroke-width="1"/>
<text x="306.3" y="353.89" font-size="10.8" text-anchor="start" fill="#262626" textLength="23.5" lengthAdjust="spacingAndGlyphs">M on</text>
<text x="306.3" y="367.69" font-size="10.8" text-anchor="start" fill="#262626" textLength="24" lengthAdjust="spacingAndGlyphs">M off</text>
<line x1="295.5" y1="424" x2="295.5" y2="591.3" stroke="#b0b0b0" stroke-width="0.9" stroke-dasharray="3.6 3"/>
<line x1="386.2" y1="424" x2="386.2" y2="591.3" stroke="#b0b0b0" stroke-width="0.9" stroke-dasharray="3.6 3"/>
<line x1="273.3" y1="440.5" x2="454" y2="440.5" stroke="#b0b0b0" stroke-width="0.9" stroke-dasharray="3.6 3"/>
<line x1="273.3" y1="525.1" x2="454" y2="525.1" stroke="#b0b0b0" stroke-width="0.9" stroke-dasharray="3.6 3"/>
<rect x="272.3" y="423" width="182.7" height="169.3" fill="none" stroke="#454545" stroke-width="1.35"/>
<line x1="272.5" y1="592.3" x2="272.5" y2="589.1" stroke="#454545" stroke-width="1.1"/>
<line x1="329.2" y1="592.3" x2="329.2" y2="589.1" stroke="#454545" stroke-width="1.1"/>
<line x1="385.3" y1="592.3" x2="385.3" y2="589.1" stroke="#454545" stroke-width="1.1"/>
<line x1="441.3" y1="592.3" x2="441.3" y2="589.1" stroke="#454545" stroke-width="1.1"/>
<line x1="301" y1="592.3" x2="301" y2="590.3" stroke="#454545" stroke-width="1.1"/>
<line x1="357.3" y1="592.3" x2="357.3" y2="590.3" stroke="#454545" stroke-width="1.1"/>
<line x1="413.3" y1="592.3" x2="413.3" y2="590.3" stroke="#454545" stroke-width="1.1"/>
<line x1="272.3" y1="457" x2="275.5" y2="457" stroke="#454545" stroke-width="1.1"/>
<line x1="272.3" y1="559.1" x2="275.5" y2="559.1" stroke="#454545" stroke-width="1.1"/>
<line x1="272.3" y1="508" x2="274.3" y2="508" stroke="#454545" stroke-width="1.1"/>
<text x="268.8" y="460.82" font-size="10.6" text-anchor="end" fill="#262626" textLength="21" lengthAdjust="spacingAndGlyphs">0.21</text>
<text x="268.8" y="562.82" font-size="10.6" text-anchor="end" fill="#262626" textLength="21" lengthAdjust="spacingAndGlyphs">0.18</text>
<text x="272.5" y="606.82" font-size="10.6" text-anchor="middle" fill="#262626" textLength="18" lengthAdjust="spacingAndGlyphs">-2.4</text>
<text x="329.3" y="606.82" font-size="10.6" text-anchor="middle" fill="#262626" textLength="18" lengthAdjust="spacingAndGlyphs">-2.0</text>
<text x="385.5" y="606.82" font-size="10.6" text-anchor="middle" fill="#262626" textLength="18" lengthAdjust="spacingAndGlyphs">-1.6</text>
<text x="441.3" y="606.82" font-size="10.6" text-anchor="middle" fill="#262626" textLength="18" lengthAdjust="spacingAndGlyphs">-1.2</text>
<text x="367" y="619.05" font-size="13.2" text-anchor="middle" fill="#262626" textLength="71" lengthAdjust="spacingAndGlyphs">Log i (A g<tspan font-size="9.5" baseline-shift="5.02">-1</tspan>)</text>
<text x="243.5" y="507.5" font-size="13.2" text-anchor="middle" fill="#262626" transform="rotate(-90 243.5 507.5)" textLength="77" lengthAdjust="spacingAndGlyphs">Potential (V)</text>
<text x="283" y="451.39" font-size="10.8" text-anchor="start" fill="#262626" textLength="41.5" lengthAdjust="spacingAndGlyphs">At 300 K</text>
<text x="284.5" y="573.89" font-size="10.8" text-anchor="start" fill="#262626" textLength="89" lengthAdjust="spacingAndGlyphs">Reduction Process</text>
<line x1="324" y1="468.9" x2="410.7" y2="492.7" stroke="#555555" stroke-width="1.1"/>
<rect x="320.5" y="469" width="7" height="7" fill="none" stroke="#9a9a9a" stroke-width="1"/>
<rect x="331.02" y="471.25" width="7" height="7" fill="none" stroke="#9a9a9a" stroke-width="1"/>
<rect x="340.43" y="473.41" width="7" height="7" fill="none" stroke="#9a9a9a" stroke-width="1"/>
<rect x="348.94" y="475.49" width="7" height="7" fill="none" stroke="#9a9a9a" stroke-width="1"/>
<rect x="356.72" y="477.5" width="7" height="7" fill="none" stroke="#9a9a9a" stroke-width="1"/>
<rect x="363.87" y="479.42" width="7" height="7" fill="none" stroke="#9a9a9a" stroke-width="1"/>
<rect x="370.48" y="481.28" width="7" height="7" fill="none" stroke="#9a9a9a" stroke-width="1"/>
<rect x="376.65" y="483.07" width="7" height="7" fill="none" stroke="#9a9a9a" stroke-width="1"/>
<rect x="382.41" y="484.81" width="7" height="7" fill="none" stroke="#9a9a9a" stroke-width="1"/>
<rect x="387.83" y="486.48" width="7" height="7" fill="none" stroke="#9a9a9a" stroke-width="1"/>
<rect x="392.93" y="488.11" width="7" height="7" fill="none" stroke="#9a9a9a" stroke-width="1"/>
<rect x="397.76" y="489.68" width="7" height="7" fill="none" stroke="#9a9a9a" stroke-width="1"/>
<rect x="402.34" y="491.21" width="7" height="7" fill="none" stroke="#9a9a9a" stroke-width="1"/>
<rect x="406.7" y="492.7" width="7" height="7" fill="none" stroke="#9a9a9a" stroke-width="1"/>
<line x1="315.3" y1="504" x2="405.5" y2="527.7" stroke="#e8712e" stroke-width="1.2"/>
<rect x="311.8" y="504.1" width="7" height="7" fill="none" stroke="#ee7a3a" stroke-width="1"/>
<rect x="322.7" y="506.34" width="7" height="7" fill="none" stroke="#ee7a3a" stroke-width="1"/>
<rect x="332.45" y="508.49" width="7" height="7" fill="none" stroke="#ee7a3a" stroke-width="1"/>
<rect x="341.27" y="510.56" width="7" height="7" fill="none" stroke="#ee7a3a" stroke-width="1"/>
<rect x="349.32" y="512.55" width="7" height="7" fill="none" stroke="#ee7a3a" stroke-width="1"/>
<rect x="356.72" y="514.47" width="7" height="7" fill="none" stroke="#ee7a3a" stroke-width="1"/>
<rect x="363.58" y="516.32" width="7" height="7" fill="none" stroke="#ee7a3a" stroke-width="1"/>
<rect x="369.97" y="518.11" width="7" height="7" fill="none" stroke="#ee7a3a" stroke-width="1"/>
<rect x="375.94" y="519.84" width="7" height="7" fill="none" stroke="#ee7a3a" stroke-width="1"/>
<rect x="381.55" y="521.51" width="7" height="7" fill="none" stroke="#ee7a3a" stroke-width="1"/>
<rect x="386.84" y="523.13" width="7" height="7" fill="none" stroke="#ee7a3a" stroke-width="1"/>
<rect x="391.84" y="524.69" width="7" height="7" fill="none" stroke="#ee7a3a" stroke-width="1"/>
<rect x="396.59" y="526.22" width="7" height="7" fill="none" stroke="#ee7a3a" stroke-width="1"/>
<rect x="401.1" y="527.7" width="7" height="7" fill="none" stroke="#ee7a3a" stroke-width="1"/>
<text x="331" y="464.6" font-size="11" font-style="italic" fill="#8a8a8a" transform="rotate(7.7 331 464.6)" textLength="85" lengthAdjust="spacingAndGlyphs">11.7±0.6 mV dec<tspan font-size="7.92" baseline-shift="4.18">-1</tspan></text>
<text x="319.6" y="525.1" font-size="11" font-style="italic" fill="#d9a437" transform="rotate(11.6 319.6 525.1)" textLength="86" lengthAdjust="spacingAndGlyphs">11.3±0.6 mV dec<tspan font-size="7.92" baseline-shift="4.18">-1</tspan></text>
<rect x="399.8" y="555" width="7" height="7" fill="none" stroke="#8a8a8a" stroke-width="1"/>
<rect x="399.8" y="569" width="7" height="7" fill="none" stroke="#ee7a3a" stroke-width="1"/>
<text x="418" y="562.49" font-size="10.8" text-anchor="start" fill="#262626" textLength="24" lengthAdjust="spacingAndGlyphs">M on</text>
<text x="418" y="576.39" font-size="10.8" text-anchor="start" fill="#262626" textLength="24.5" lengthAdjust="spacingAndGlyphs">M off</text>
<rect x="503" y="5" width="179.6" height="162" fill="none" stroke="#454545" stroke-width="1.35"/>
<line x1="507.6" y1="167" x2="507.6" y2="163.8" stroke="#454545" stroke-width="1.1"/>
<line x1="550.2" y1="167" x2="550.2" y2="163.8" stroke="#454545" stroke-width="1.1"/>
<line x1="592.8" y1="167" x2="592.8" y2="163.8" stroke="#454545" stroke-width="1.1"/>
<line x1="635.4" y1="167" x2="635.4" y2="163.8" stroke="#454545" stroke-width="1.1"/>
<line x1="678" y1="167" x2="678" y2="163.8" stroke="#454545" stroke-width="1.1"/>
<line x1="528.9" y1="167" x2="528.9" y2="165" stroke="#454545" stroke-width="1.1"/>
<line x1="571.5" y1="167" x2="571.5" y2="165" stroke="#454545" stroke-width="1.1"/>
<line x1="614.1" y1="167" x2="614.1" y2="165" stroke="#454545" stroke-width="1.1"/>
<line x1="656.7" y1="167" x2="656.7" y2="165" stroke="#454545" stroke-width="1.1"/>
<line x1="503" y1="154.26" x2="506.2" y2="154.26" stroke="#454545" stroke-width="1.1"/>
<line x1="503" y1="120.38" x2="506.2" y2="120.38" stroke="#454545" stroke-width="1.1"/>
<line x1="503" y1="86.5" x2="506.2" y2="86.5" stroke="#454545" stroke-width="1.1"/>
<line x1="503" y1="52.62" x2="506.2" y2="52.62" stroke="#454545" stroke-width="1.1"/>
<line x1="503" y1="18.74" x2="506.2" y2="18.74" stroke="#454545" stroke-width="1.1"/>
<line x1="503" y1="137.32" x2="505" y2="137.32" stroke="#454545" stroke-width="1.1"/>
<line x1="503" y1="103.44" x2="505" y2="103.44" stroke="#454545" stroke-width="1.1"/>
<line x1="503" y1="69.56" x2="505" y2="69.56" stroke="#454545" stroke-width="1.1"/>
<line x1="503" y1="35.68" x2="505" y2="35.68" stroke="#454545" stroke-width="1.1"/>
<text x="500.3" y="158.08" font-size="10.6" text-anchor="end" fill="#262626">-8</text>
<text x="500.3" y="124.2" font-size="10.6" text-anchor="end" fill="#262626">-4</text>
<text x="500.3" y="90.32" font-size="10.6" text-anchor="end" fill="#262626">0</text>
<text x="500.3" y="56.44" font-size="10.6" text-anchor="end" fill="#262626">4</text>
<text x="500.3" y="22.56" font-size="10.6" text-anchor="end" fill="#262626">8</text>
<text x="506.8" y="180.12" font-size="10.6" text-anchor="middle" fill="#262626">-2</text>
<text x="549.4" y="180.12" font-size="10.6" text-anchor="middle" fill="#262626">-1</text>
<text x="592.8" y="180.12" font-size="10.6" text-anchor="middle" fill="#262626">0</text>
<text x="635.4" y="180.12" font-size="10.6" text-anchor="middle" fill="#262626">1</text>
<text x="678" y="180.12" font-size="10.6" text-anchor="middle" fill="#262626">2</text>
<text x="592.9" y="192.35" font-size="13.2" text-anchor="middle" fill="#262626" textLength="73" lengthAdjust="spacingAndGlyphs">Potential (V)</text>
<text x="487.25" y="81" font-size="13.2" text-anchor="middle" fill="#262626" transform="rotate(-90 487.25 81)" textLength="88" lengthAdjust="spacingAndGlyphs">Current (A g<tspan font-size="9.5" baseline-shift="5.02">-1</tspan>)</text>
<text x="508.8" y="23.39" font-size="10.8" fill="#262626" textLength="136.5" lengthAdjust="spacingAndGlyphs">CNF/CoFe<tspan font-size="7.78" baseline-shift="-3.02">2</tspan>O<tspan font-size="7.78" baseline-shift="-3.02">4</tspan>//CNF/CoFe<tspan font-size="7.78" baseline-shift="-3.02">2</tspan>O<tspan font-size="7.78" baseline-shift="-3.02">4</tspan></text>
<text x="522.5" y="50.19" font-size="10.8" fill="#262626" textLength="81.5" lengthAdjust="spacingAndGlyphs">50 mV s<tspan font-size="7.78" baseline-shift="4.1">-1</tspan>&#160;&#160;&#160;300 K</text>
<path d="M516.55,129.23 C517.45,129.81 520.01,131.76 521.97,132.74 C523.92,133.71 526.21,134.99 528.27,135.07 C530.33,135.15 532.34,134.02 534.34,133.22 C536.34,132.42 538.35,131.31 540.28,130.27 C542.21,129.23 544.15,128.19 545.92,127 C547.7,125.81 549.27,124.41 550.95,123.12 C552.62,121.82 554.35,120.57 555.98,119.24 C557.6,117.91 559.13,116.51 560.68,115.12 C562.23,113.73 563.74,112.31 565.27,110.91 C566.79,109.51 568.32,108.11 569.85,106.7 C571.38,105.3 572.91,103.9 574.43,102.49 C575.96,101.09 577.48,99.68 579.01,98.28 C580.54,96.87 582.08,95.48 583.59,94.06 C585.09,92.64 586.55,91.2 588.03,89.76 C589.52,88.33 590.99,86.9 592.47,85.46 C593.95,84.03 595.43,82.59 596.91,81.16 C598.39,79.72 599.87,78.29 601.34,76.86 C602.82,75.42 604.3,73.99 605.78,72.55 C607.26,71.12 608.7,69.66 610.22,68.25 C611.73,66.84 613.26,65.45 614.88,64.11 C616.49,62.76 618.22,61.51 619.9,60.21 C621.57,58.91 623.25,57.61 624.92,56.31 C626.59,55.01 628.23,53.66 629.94,52.41 C631.65,51.15 633.22,49.75 635.16,48.79 C637.11,47.82 639.46,47.31 641.61,46.61 C643.76,45.9 645.82,44.82 648.05,44.58 C650.28,44.33 652.68,44.94 655,45.16 C657.33,45.37 659.68,45.63 662.02,45.87 C664.36,46.11 669.06,45.93 669.05,46.59 C669.05,47.25 664.34,48.75 661.99,49.84 C659.65,50.92 657.29,52 654.97,53.11 C652.65,54.21 650.34,55.31 648.06,56.45 C645.77,57.6 643.53,58.79 641.27,59.96 C639.01,61.13 636.74,62.29 634.49,63.46 C632.23,64.64 629.98,65.81 627.73,66.99 C625.48,68.17 623.27,69.4 620.99,70.54 C618.7,71.67 616.34,72.7 614.01,73.79 C611.69,74.87 609.36,75.95 607.04,77.03 C604.71,78.12 602.39,79.2 600.07,80.29 C597.74,81.37 595.42,82.46 593.1,83.54 C590.78,84.62 588.47,85.73 586.13,86.79 C583.79,87.86 581.44,88.91 579.09,89.95 C576.73,90.99 574.33,91.96 571.99,93.03 C569.65,94.09 567.36,95.23 565.05,96.34 C562.74,97.45 560.43,98.55 558.13,99.68 C555.83,100.8 553.55,101.93 551.27,103.08 C549,104.23 546.7,105.35 544.48,106.56 C542.27,107.78 540.15,109.11 537.98,110.38 C535.82,111.66 533.54,112.82 531.51,114.22 C529.47,115.62 527.64,117.23 525.78,118.79 C523.93,120.34 521.92,121.79 520.38,123.53 C518.84,125.27 517.18,128.28 516.55,129.23" stroke="#b4b4b4" stroke-width="1.1" fill="none" stroke-linejoin="round"/>
<path d="M516.55,129.7 C517.46,130.29 520.06,132.28 522.05,133.23 C524.03,134.19 526.34,135.35 528.44,135.4 C530.53,135.45 532.59,134.35 534.6,133.53 C536.62,132.71 538.63,131.56 540.55,130.48 C542.47,129.41 544.37,128.31 546.14,127.08 C547.9,125.85 549.47,124.43 551.14,123.11 C552.81,121.78 554.53,120.49 556.14,119.13 C557.75,117.76 559.28,116.33 560.82,114.91 C562.36,113.49 563.86,112.04 565.38,110.61 C566.9,109.18 568.42,107.75 569.94,106.31 C571.46,104.88 572.97,103.44 574.48,102 C576,100.56 577.51,99.13 579.03,97.69 C580.54,96.25 582.07,94.83 583.57,93.38 C585.07,91.93 586.53,90.46 588.01,89 C589.49,87.54 590.97,86.08 592.45,84.62 C593.92,83.16 595.4,81.69 596.88,80.23 C598.36,78.77 599.84,77.31 601.31,75.85 C602.79,74.39 604.27,72.93 605.75,71.47 C607.23,70.01 608.67,68.52 610.18,67.09 C611.7,65.65 613.23,64.23 614.83,62.85 C616.43,61.48 618.13,60.17 619.78,58.83 C621.43,57.49 623.08,56.15 624.73,54.82 C626.38,53.48 627.98,52.08 629.68,50.8 C631.38,49.51 632.97,48.1 634.92,47.11 C636.87,46.11 639.21,45.52 641.38,44.83 C643.55,44.14 645.67,43.18 647.93,42.97 C650.19,42.76 652.62,43.39 654.96,43.58 C657.31,43.76 659.66,43.92 662.01,44.09 C664.36,44.26 669.03,43.92 669.05,44.57 C669.07,45.23 664.43,46.87 662.12,48.02 C659.81,49.17 657.5,50.31 655.19,51.46 C652.88,52.62 650.57,53.76 648.28,54.94 C646,56.13 643.76,57.36 641.5,58.57 C639.23,59.77 636.97,60.98 634.71,62.19 C632.45,63.4 630.19,64.61 627.92,65.82 C625.66,67.02 623.44,68.28 621.14,69.44 C618.84,70.6 616.47,71.67 614.13,72.79 C611.79,73.9 609.45,75.01 607.11,76.12 C604.77,77.23 602.43,78.35 600.1,79.46 C597.76,80.57 595.42,81.68 593.08,82.79 C590.74,83.9 588.41,85.03 586.06,86.13 C583.71,87.22 581.34,88.3 578.97,89.37 C576.61,90.44 574.2,91.46 571.86,92.56 C569.51,93.67 567.21,94.83 564.9,95.98 C562.59,97.13 560.28,98.28 557.98,99.44 C555.68,100.6 553.39,101.78 551.1,102.95 C548.81,104.12 546.47,105.25 544.24,106.49 C542.01,107.73 539.88,109.08 537.7,110.39 C535.53,111.69 533.23,112.89 531.2,114.32 C529.17,115.76 527.37,117.42 525.54,119.01 C523.7,120.6 521.7,122.1 520.2,123.88 C518.7,125.66 517.16,128.73 516.55,129.7" stroke="#e8868f" stroke-width="1.3" fill="none" stroke-linejoin="round"/>
<path d="M516.55,136.05 C517.53,136.66 520.31,138.88 522.43,139.72 C524.55,140.55 527.02,141.17 529.27,141.06 C531.53,140.96 533.83,140 535.93,139.09 C538.04,138.17 540.01,136.82 541.89,135.55 C543.77,134.29 545.51,132.92 547.21,131.5 C548.91,130.08 550.49,128.53 552.11,127.04 C553.74,125.55 555.4,124.09 556.96,122.56 C558.53,121.03 560,119.44 561.49,117.86 C562.99,116.29 564.46,114.69 565.94,113.11 C567.42,111.52 568.91,109.94 570.37,108.34 C571.84,106.75 573.29,105.15 574.74,103.55 C576.2,101.95 577.66,100.36 579.11,98.76 C580.57,97.16 582.02,95.56 583.48,93.96 C584.94,92.37 586.42,90.77 587.89,89.17 C589.36,87.58 590.84,85.99 592.31,84.39 C593.79,82.8 595.26,81.2 596.74,79.61 C598.21,78.01 599.69,76.42 601.16,74.82 C602.64,73.23 604.11,71.64 605.59,70.04 C607.06,68.45 608.51,66.84 610.01,65.26 C611.51,63.68 613.05,62.13 614.58,60.58 C616.11,59.03 617.65,57.51 619.18,55.97 C620.72,54.43 622.25,52.89 623.78,51.36 C625.31,49.82 626.72,48.19 628.38,46.75 C630.03,45.31 631.72,43.85 633.7,42.71 C635.68,41.58 637.98,40.56 640.25,39.93 C642.53,39.3 644.92,38.98 647.34,38.94 C649.75,38.89 652.32,39.63 654.76,39.67 C657.19,39.71 659.57,39.37 661.96,39.18 C664.34,38.98 668.92,37.85 669.05,38.48 C669.19,39.1 664.89,41.46 662.76,42.92 C660.63,44.39 658.5,45.85 656.28,47.26 C654.05,48.67 651.68,49.99 649.41,51.38 C647.13,52.77 644.88,54.2 642.62,55.61 C640.36,57.02 638.12,58.44 635.83,59.83 C633.55,61.22 631.24,62.59 628.92,63.94 C626.59,65.3 624.26,66.65 621.89,67.96 C619.52,69.27 617.11,70.51 614.71,71.78 C612.31,73.05 609.9,74.31 607.49,75.56 C605.08,76.82 602.65,78.06 600.23,79.31 C597.81,80.56 595.4,81.81 592.98,83.05 C590.56,84.3 588.15,85.56 585.72,86.8 C583.29,88.04 580.83,89.24 578.41,90.48 C576,91.72 573.58,92.96 571.21,94.24 C568.83,95.53 566.47,96.85 564.15,98.19 C561.82,99.53 559.56,100.93 557.24,102.28 C554.92,103.63 552.61,104.98 550.24,106.29 C547.87,107.59 545.36,108.75 543.03,110.11 C540.71,111.46 538.52,112.95 536.29,114.41 C534.07,115.86 531.68,117.21 529.68,118.83 C527.68,120.45 526.02,122.32 524.29,124.13 C522.56,125.93 520.6,127.67 519.31,129.66 C518.02,131.64 517.01,134.98 516.55,136.05" stroke="#e6dc4a" stroke-width="1.3" fill="none" stroke-linejoin="round"/>
<path d="M516.55,139.65 C517.56,140.27 520.45,142.62 522.65,143.39 C524.85,144.16 527.41,144.46 529.75,144.27 C532.09,144.07 534.53,143.21 536.69,142.24 C538.84,141.26 540.8,139.8 542.66,138.43 C544.51,137.06 546.15,135.53 547.81,134 C549.48,132.48 551.06,130.86 552.66,129.27 C554.27,127.69 555.9,126.13 557.43,124.5 C558.97,122.88 560.4,121.2 561.87,119.53 C563.35,117.87 564.8,116.19 566.26,114.52 C567.72,112.85 569.18,111.18 570.62,109.5 C572.06,107.81 573.47,106.12 574.89,104.43 C576.31,102.74 577.74,101.05 579.16,99.36 C580.58,97.67 581.99,95.98 583.43,94.3 C584.87,92.61 586.35,90.95 587.82,89.27 C589.29,87.6 590.77,85.93 592.24,84.26 C593.71,82.59 595.19,80.92 596.66,79.25 C598.13,77.58 599.6,75.91 601.08,74.24 C602.55,72.57 604.02,70.9 605.5,69.23 C606.97,67.56 608.42,65.88 609.91,64.22 C611.41,62.57 612.95,60.94 614.44,59.29 C615.93,57.64 617.38,55.99 618.85,54.35 C620.31,52.7 621.78,51.05 623.24,49.4 C624.71,47.75 626.01,45.98 627.64,44.45 C629.26,42.92 631.01,41.44 633.01,40.22 C635,39.01 637.28,37.74 639.61,37.15 C641.94,36.55 644.49,36.6 647,36.65 C649.5,36.7 652.15,37.5 654.64,37.46 C657.13,37.42 659.53,36.8 661.93,36.39 C664.33,35.98 668.86,34.41 669.05,35.02 C669.25,35.63 665.15,38.39 663.12,40.04 C661.09,41.68 659.07,43.33 656.89,44.88 C654.71,46.44 652.32,47.86 650.04,49.37 C647.77,50.87 645.52,52.41 643.26,53.93 C641,55.45 638.77,57 636.47,58.49 C634.17,59.98 631.84,61.44 629.48,62.88 C627.12,64.32 624.72,65.73 622.32,67.12 C619.91,68.51 617.47,69.86 615.04,71.21 C612.6,72.57 610.16,73.91 607.7,75.25 C605.25,76.58 602.78,77.9 600.31,79.23 C597.85,80.55 595.38,81.88 592.92,83.2 C590.46,84.53 588,85.86 585.53,87.18 C583.06,88.5 580.55,89.77 578.1,91.11 C575.65,92.44 573.23,93.8 570.84,95.19 C568.44,96.58 566.05,97.99 563.72,99.44 C561.38,100.89 559.15,102.43 556.82,103.89 C554.49,105.34 552.17,106.8 549.75,108.18 C547.34,109.56 544.73,110.74 542.35,112.16 C539.97,113.57 537.75,115.15 535.49,116.68 C533.24,118.22 530.8,119.66 528.82,121.38 C526.83,123.11 525.25,125.1 523.59,127.03 C521.92,128.95 519.98,130.83 518.81,132.93 C517.64,135.03 516.92,138.53 516.55,139.65" stroke="#6a9fe3" stroke-width="1.15" fill="none" stroke-linejoin="round"/>
<path d="M516.55,146.21 C517.63,146.86 520.7,149.44 523.05,150.09 C525.39,150.74 528.11,150.47 530.62,150.11 C533.12,149.76 535.82,149.05 538.06,147.98 C540.3,146.91 542.23,145.24 544.04,143.67 C545.85,142.1 547.32,140.29 548.92,138.57 C550.52,136.85 552.11,135.09 553.67,133.34 C555.23,131.59 556.8,129.84 558.28,128.05 C559.77,126.26 561.15,124.41 562.57,122.58 C564,120.76 565.42,118.93 566.84,117.1 C568.25,115.27 569.68,113.44 571.07,111.6 C572.46,109.75 573.8,107.89 575.16,106.03 C576.52,104.18 577.89,102.32 579.25,100.47 C580.61,98.61 581.93,96.74 583.34,94.9 C584.74,93.07 586.23,91.27 587.7,89.46 C589.16,87.64 590.63,85.84 592.1,84.03 C593.57,82.22 595.04,80.42 596.51,78.61 C597.98,76.8 599.45,74.99 600.92,73.18 C602.39,71.38 603.86,69.57 605.33,67.76 C606.8,65.95 608.26,64.14 609.74,62.33 C611.21,60.53 612.77,58.77 614.19,56.94 C615.61,55.12 616.89,53.24 618.23,51.39 C619.57,49.53 620.92,47.68 622.26,45.83 C623.6,43.97 624.71,41.95 626.29,40.26 C627.87,38.57 629.72,37.05 631.75,35.68 C633.78,34.32 636.01,32.62 638.44,32.08 C640.88,31.55 643.72,32.26 646.38,32.48 C649.05,32.71 651.84,33.62 654.43,33.42 C657.01,33.23 659.44,32.1 661.88,31.31 C664.32,30.53 668.74,28.14 669.05,28.72 C669.37,29.29 665.62,32.8 663.78,34.77 C661.94,36.74 660.11,38.72 658.02,40.54 C655.92,42.36 653.47,43.97 651.2,45.69 C648.94,47.41 646.68,49.14 644.42,50.87 C642.16,52.6 639.95,54.38 637.63,56.05 C635.31,57.73 632.93,59.35 630.5,60.94 C628.08,62.53 625.57,64.05 623.1,65.59 C620.62,67.13 618.14,68.66 615.64,70.17 C613.14,71.69 610.63,73.19 608.1,74.67 C605.56,76.16 603,77.61 600.46,79.07 C597.91,80.54 595.36,82.01 592.81,83.47 C590.27,84.94 587.72,86.41 585.17,87.87 C582.63,89.34 580.02,90.74 577.52,92.25 C575.02,93.76 572.59,95.34 570.16,96.92 C567.73,98.5 565.29,100.07 562.94,101.72 C560.59,103.37 558.4,105.17 556.05,106.82 C553.71,108.47 551.36,110.11 548.87,111.63 C546.37,113.14 543.57,114.36 541.1,115.9 C538.63,117.43 536.35,119.15 534.04,120.84 C531.73,122.53 529.2,124.12 527.24,126.04 C525.29,127.95 523.86,130.18 522.3,132.32 C520.74,134.46 518.85,136.58 517.89,138.9 C516.93,141.21 516.77,144.99 516.55,146.21" stroke="#72cfa4" stroke-width="1.15" fill="none" stroke-linejoin="round"/>
<path d="M516.55,150.87 C517.68,151.53 520.89,154.28 523.33,154.85 C525.78,155.41 528.61,154.73 531.23,154.26 C533.85,153.8 536.73,153.2 539.03,152.06 C541.33,150.91 543.25,149.09 545.03,147.39 C546.81,145.68 548.15,143.67 549.7,141.81 C551.26,139.95 552.85,138.1 554.38,136.23 C555.91,134.36 557.44,132.48 558.89,130.57 C560.33,128.65 561.67,126.69 563.07,124.75 C564.46,122.81 565.86,120.87 567.25,118.93 C568.64,116.98 570.04,115.05 571.39,113.09 C572.74,111.13 574.03,109.14 575.35,107.17 C576.67,105.2 577.99,103.22 579.31,101.25 C580.63,99.28 581.89,97.28 583.27,95.33 C584.65,93.39 586.15,91.5 587.61,89.59 C589.06,87.67 590.54,85.77 592.01,83.87 C593.47,81.96 594.94,80.06 596.41,78.15 C597.88,76.24 599.34,74.34 600.81,72.43 C602.28,70.53 603.74,68.62 605.21,66.71 C606.68,64.81 608.14,62.9 609.61,60.99 C611.08,59.09 612.65,57.23 614.01,55.28 C615.37,53.33 616.53,51.28 617.79,49.29 C619.05,47.29 620.31,45.29 621.56,43.29 C622.82,41.29 623.78,39.1 625.33,37.29 C626.88,35.49 628.81,33.93 630.86,32.46 C632.9,30.99 635.1,28.98 637.62,28.49 C640.13,28 643.17,29.18 645.94,29.53 C648.72,29.87 651.62,30.86 654.27,30.56 C656.92,30.26 659.38,28.76 661.84,27.71 C664.3,26.65 668.65,23.69 669.05,24.25 C669.46,24.8 665.95,28.83 664.25,31.04 C662.54,33.24 660.85,35.45 658.81,37.46 C656.78,39.46 654.29,41.21 652.03,43.08 C649.77,44.95 647.5,46.83 645.24,48.7 C642.98,50.58 640.79,52.51 638.46,54.32 C636.12,56.13 633.7,57.87 631.23,59.57 C628.76,61.26 626.18,62.86 623.65,64.5 C621.12,66.15 618.61,67.81 616.06,69.44 C613.52,71.06 610.96,72.68 608.37,74.26 C605.79,75.85 603.16,77.4 600.56,78.96 C597.95,80.53 595.35,82.1 592.74,83.66 C590.13,85.23 587.53,86.8 584.92,88.36 C582.32,89.93 579.65,91.43 577.11,93.06 C574.57,94.7 572.14,96.44 569.69,98.15 C567.23,99.87 564.74,101.55 562.38,103.34 C560.02,105.13 557.87,107.11 555.51,108.9 C553.15,110.69 550.79,112.47 548.24,114.07 C545.69,115.68 542.75,116.93 540.21,118.55 C537.68,120.17 535.35,121.99 533,123.79 C530.65,125.58 528.06,127.29 526.13,129.34 C524.19,131.39 522.87,133.78 521.39,136.07 C519.91,138.37 518.05,140.67 517.24,143.13 C516.43,145.6 516.66,149.58 516.55,150.87" stroke="#bd94e6" stroke-width="1.15" fill="none" stroke-linejoin="round"/>
<line x1="650.4" y1="45.2" x2="628" y2="27.5" stroke="#222" stroke-width="1.1" stroke-dasharray="2.6 2.2"/>
<path d="M625.5,25.5 L631.5,27.2 L628.6,30.6 Z" fill="#222"/>
<line x1="526" y1="131.2" x2="542" y2="151.8" stroke="#222" stroke-width="1.1" stroke-dasharray="2.6 2.2"/>
<path d="M545,155.5 L538.9,152.5 L542.6,149.6 Z" fill="#222"/>
<line x1="610.4" y1="86.1" x2="629.1" y2="86.1" stroke="#b4b4b4" stroke-width="1.25"/>
<text x="672.5" y="89.99" font-size="10.8" text-anchor="end" fill="#262626" textLength="29.2" lengthAdjust="spacingAndGlyphs">0&#160;&#160;&#160;mT</text>
<line x1="610.4" y1="98.9" x2="629.1" y2="98.9" stroke="#e8868f" stroke-width="1.25"/>
<text x="672.5" y="102.79" font-size="10.8" text-anchor="end" fill="#262626" textLength="35.5" lengthAdjust="spacingAndGlyphs">300&#160;mT</text>
<line x1="610.4" y1="112.4" x2="629.1" y2="112.4" stroke="#6a9fe3" stroke-width="1.25"/>
<text x="672.5" y="116.29" font-size="10.8" text-anchor="end" fill="#262626" textLength="35.5" lengthAdjust="spacingAndGlyphs">600&#160;mT</text>
<line x1="610.4" y1="125.4" x2="629.1" y2="125.4" stroke="#72cfa4" stroke-width="1.25"/>
<text x="672.5" y="129.29" font-size="10.8" text-anchor="end" fill="#262626" textLength="35.5" lengthAdjust="spacingAndGlyphs">900&#160;mT</text>
<line x1="610.4" y1="138.3" x2="629.1" y2="138.3" stroke="#bd94e6" stroke-width="1.25"/>
<text x="672.5" y="142.19" font-size="10.8" text-anchor="end" fill="#262626" textLength="39.7" lengthAdjust="spacingAndGlyphs">1200&#160;mT</text>
<line x1="610.4" y1="151.5" x2="629.1" y2="151.5" stroke="#e6dc4a" stroke-width="1.25"/>
<text x="672.5" y="155.39" font-size="10.8" text-anchor="end" fill="#262626" textLength="36.5" lengthAdjust="spacingAndGlyphs">Remove</text>
<defs><linearGradient id="gna" x1="0" x2="1" y1="0" y2="0"><stop offset="0" stop-color="#7fbd62"/><stop offset="1" stop-color="#a6d987"/></linearGradient><linearGradient id="gbl" x1="0" x2="1" y1="0" y2="0"><stop offset="0" stop-color="#5d80c8"/><stop offset="1" stop-color="#8fa9dc"/></linearGradient><linearGradient id="gpe" x1="0" x2="1" y1="0" y2="0"><stop offset="0" stop-color="#f5e3d3"/><stop offset="1" stop-color="#df9e74"/></linearGradient><linearGradient id="ggr" x1="0" x2="1" y1="0" y2="0"><stop offset="0" stop-color="#f2f2f2"/><stop offset="1" stop-color="#b2b2b2"/></linearGradient><radialGradient id="gbox" cx="0.5" cy="0.5" r="0.72"><stop offset="0.5" stop-color="#f2f4f8"/><stop offset="1" stop-color="#d8e0ee"/></radialGradient><filter id="sh" x="-5%" y="-30%" width="110%" height="170%"><feDropShadow dx="0.6" dy="1.6" stdDeviation="0.9" flood-color="#000" flood-opacity="0.45"/></filter></defs>
<path d="M497,246 C512,250 518.5,275 518.5,298 C518.5,322 512,348 497,352 Z" fill="url(#gna)"/>
<line x1="497" y1="220" x2="497" y2="360.5" stroke="#111" stroke-width="1.3"/>
<path d="M497,211.8 L493.5,221.5 L500.5,221.5 Z" fill="#111"/>
<line x1="553.6" y1="220" x2="553.6" y2="360.5" stroke="#111" stroke-width="1.3"/>
<path d="M553.6,211.8 L550.1,221.5 L557.1,221.5 Z" fill="#111"/>
<line x1="623.5" y1="220" x2="623.5" y2="360.5" stroke="#111" stroke-width="1.3"/>
<path d="M623.5,211.8 L620,221.5 L627,221.5 Z" fill="#111"/>
<linearGradient id="gpe2" x1="0" x2="1" y1="0" y2="0"><stop offset="0" stop-color="#f1d3bd"/><stop offset="1" stop-color="#e2a378"/></linearGradient>
<linearGradient id="gpe3" x1="0" x2="1" y1="0" y2="0"><stop offset="0" stop-color="#f5dcc8"/><stop offset="1" stop-color="#ecbf9e"/></linearGradient>
<linearGradient id="ggr2" x1="0" x2="1" y1="0" y2="0"><stop offset="0" stop-color="#c6c7cc"/><stop offset="1" stop-color="#b5b6bb"/></linearGradient>
<path d="M554.5,248 C560,251 568,254.5 577,257.3 C570,259.5 562,263 554.5,270 Z" fill="#e7e5ea" stroke="#c4c4c8" stroke-width="0.7"/>
<path d="M554.5,245.8 C565,248 580,251 593.8,253.3 C583,255.5 570,256.8 554.5,253.5 Z" fill="url(#gpe2)"/>
<path d="M554.5,326.3 C562,328 572,330 582.8,331.7 C572,334 562,338 554.5,343.5 Z" fill="url(#ggr2)"/>
<path d="M554.5,315 C560,317.5 566,320 574.8,322.1 C566,324 560,326.5 554.5,330 Z" fill="url(#gpe3)"/>
<path d="M624,268 L624.1,268 L624.16,269.45 L624.26,270.9 L624.4,272.35 L624.62,273.8 L624.92,275.25 L625.35,276.7 L625.92,278.15 L626.68,279.6 L627.64,281.05 L628.84,282.5 L630.29,283.95 L631.98,285.4 L633.89,286.85 L635.98,288.3 L638.17,289.75 L640.39,291.2 L642.51,292.65 L644.42,294.1 L646.01,295.55 L647.18,297 L647.85,298.45 L647.98,299.9 L647.55,301.35 L646.59,302.8 L645.18,304.25 L643.4,305.7 L641.35,307.15 L639.17,308.6 L636.95,310.05 L634.81,311.5 L632.81,312.95 L631.02,314.4 L629.46,315.85 L628.15,317.3 L627.08,318.75 L626.23,320.2 L625.58,321.65 L625.1,323.1 L624.74,324.55 L624.49,326 L624,326 Z" fill="url(#gbl)" stroke="#5a7cc2" stroke-width="0.6"/>
<line x1="517.5" y1="298" x2="553.6" y2="256" stroke="#8a8a8a" stroke-width="0.8" stroke-dasharray="2.5 2"/>
<line x1="517.5" y1="298" x2="553.6" y2="340.5" stroke="#8a8a8a" stroke-width="0.8" stroke-dasharray="2.5 2"/>
<line x1="599.5" y1="251" x2="623.5" y2="297.5" stroke="#8a8a8a" stroke-width="0.8" stroke-dasharray="2.5 2"/>
<line x1="623.5" y1="297.5" x2="587.5" y2="332.5" stroke="#8a8a8a" stroke-width="0.8" stroke-dasharray="2.5 2"/>
<line x1="525.3" y1="319.5" x2="596.5" y2="319.5" stroke="#222" stroke-width="1.8" stroke-dasharray="5 3.2"/>
<line x1="599.3" y1="285" x2="599.3" y2="252" stroke="#222" stroke-width="1.4" stroke-dasharray="3 2.2"/>
<path d="M599.3,246.5 L596.7,252.5 L601.9,252.5 Z" fill="#222"/>
<text x="503" y="224.52" font-size="12" text-anchor="start" fill="#1e1e1e" font-weight="bold" textLength="8.5" lengthAdjust="spacingAndGlyphs">E</text>
<text x="497.5" y="243.53" font-size="11.2" text-anchor="start" fill="#1e1e1e" font-weight="bold" textLength="63" lengthAdjust="spacingAndGlyphs">Antibonding</text>
<text x="517.5" y="256.63" font-size="11.2" text-anchor="start" fill="#1e1e1e" font-weight="bold" textLength="25.5" lengthAdjust="spacingAndGlyphs">State</text>
<text x="586" y="249.36" font-size="13.5" text-anchor="start" fill="#1e1e1e" font-weight="bold">σ</text>
<path d="M598.3,238.5 L599.12,240.67 L601.44,240.78 L599.63,242.23 L600.24,244.47 L598.3,243.2 L596.36,244.47 L596.97,242.23 L595.16,240.78 L597.48,240.67 Z" fill="#1e1e1e"/>
<text x="587" y="315.8" font-size="12.5" font-weight="bold" fill="#1e1e1e">E<tspan font-size="8.5" baseline-shift="-3">F</tspan></text>
<text x="508" y="341.63" font-size="11.2" text-anchor="start" fill="#1e1e1e" font-weight="bold" textLength="43.3" lengthAdjust="spacingAndGlyphs">Bonding</text>
<text x="518.8" y="354.03" font-size="11.2" text-anchor="start" fill="#1e1e1e" font-weight="bold" textLength="25" lengthAdjust="spacingAndGlyphs">State</text>
<text x="581" y="354.36" font-size="13.5" text-anchor="start" fill="#1e1e1e" font-weight="bold">σ</text>
<text x="466.3" y="377.69" font-size="10.8" text-anchor="start" fill="#1e1e1e" font-weight="bold" textLength="60.8" lengthAdjust="spacingAndGlyphs">PDOS of Na</text>
<text x="546.3" y="373.39" font-size="10.8" text-anchor="start" fill="#1e1e1e" font-weight="bold" textLength="23.8" lengthAdjust="spacingAndGlyphs">Na-S</text>
<text x="532.5" y="385.89" font-size="10.8" text-anchor="start" fill="#1e1e1e" font-weight="bold" textLength="53.8" lengthAdjust="spacingAndGlyphs">interaction</text>
<text x="598.5" y="379.39" font-size="10.8" text-anchor="start" fill="#1e1e1e" font-weight="bold" textLength="53" lengthAdjust="spacingAndGlyphs">PDOS of S</text>
<rect x="629" y="220.8" width="20" height="12.3" fill="#e6ab86"/>
<rect x="629" y="243" width="20" height="12.7" fill="#c8c8c8"/>
<text x="654.5" y="229.49" font-size="10.8" text-anchor="start" fill="#1e1e1e" font-weight="bold" textLength="24.5" lengthAdjust="spacingAndGlyphs">M on</text>
<text x="654.5" y="253.49" font-size="10.8" text-anchor="start" fill="#1e1e1e" font-weight="bold" textLength="24.5" lengthAdjust="spacingAndGlyphs">M off</text>
<rect x="480.5" y="427.5" width="198.5" height="185" rx="22" ry="22" fill="url(#gbox)"/>
<rect x="501.3" y="440" width="157.7" height="59" fill="#f8e3d2"/>
<path d="M529.5,499 C529.5,478 549,466.3 573.3,466.3 C597.5,466.3 617,478 617,499 Z" fill="#b3d78c"/>
<rect x="502.5" y="531.8" width="157" height="57.6" fill="#f8e3d2"/>
<path d="M533,589.5 C533,569 552.5,556.8 577,556.8 C601.5,556.8 621,569 621,589.5 Z" fill="#b3d78c"/>
<rect x="492" y="498.8" width="166.5" height="15" fill="#a4a6a4" filter="url(#sh)"/>
<rect x="495" y="589.3" width="167" height="16.2" fill="#a4a6a4" filter="url(#sh)"/>
<text x="493" y="510.25" font-size="11.8" font-weight="bold" fill="#141414" textLength="165" lengthAdjust="spacingAndGlyphs">CoFe<tspan font-size="8.5" baseline-shift="-3.3">2</tspan>O<tspan font-size="8.5" baseline-shift="-3.3">4</tspan> based cathode</text>
<text x="496" y="601.25" font-size="11.8" font-weight="bold" fill="#141414" textLength="165.5" lengthAdjust="spacingAndGlyphs">CoFe<tspan font-size="8.5" baseline-shift="-3.3">2</tspan>O<tspan font-size="8.5" baseline-shift="-3.3">4</tspan> based cathode</text>
<path d="M523.8,478.8 C537,455 600,448 617.3,478.5" stroke="#9a9a9a" stroke-width="1.1" fill="none"/>
<path d="M618.3,481 L613.6,476.2 L618.4,475.1 Z" fill="#9a9a9a"/>
<path d="M540.5,446.3 C552,445 556,448 560,452 C564,455.5 568,455 574,455" stroke="#9a9a9a" stroke-width="1" fill="none"/>
<path d="M528,570.5 C540,546 605,538 621,570" stroke="#9a9a9a" stroke-width="1.1" fill="none"/>
<path d="M622,572.5 L617.2,567.6 L621.9,566.6 Z" fill="#9a9a9a"/>
<path d="M576.5,546 L570.5,543.4 L570.5,548.6 Z" fill="#9a9a9a"/>
<path d="M545,536 C556,534 560,538 563,542 C565,544.5 568,545 571,544.5" stroke="#9a9a9a" stroke-width="1" fill="none"/>
<line x1="563.3" y1="443.8" x2="581.7" y2="461.2" stroke="#e67a33" stroke-width="3.2"/>
<line x1="581.7" y1="443.8" x2="563.3" y2="461.2" stroke="#e67a33" stroke-width="3.2"/>
<circle cx="583.3" cy="527.8" r="2.1" fill="#7a7a7a"/>
<path d="M581.5,530.5 L576.5,537.5 L571,545" stroke="#7a7a7a" stroke-width="2" fill="none" stroke-linecap="round" stroke-linejoin="round"/>
<path d="M580.2,532 L574,530.5 L571.5,533" stroke="#7a7a7a" stroke-width="1.5" fill="none" stroke-linecap="round" stroke-linejoin="round"/>
<path d="M580.5,532.5 L584.5,535.5 L587,533.5" stroke="#7a7a7a" stroke-width="1.5" fill="none" stroke-linecap="round" stroke-linejoin="round"/>
<path d="M577,537.5 L582,540 L581,545" stroke="#7a7a7a" stroke-width="1.7" fill="none" stroke-linecap="round" stroke-linejoin="round"/>
<text x="507.5" y="451.25" font-size="11.8" font-weight="bold" font-style="italic" fill="#141414" textLength="24.5" lengthAdjust="spacingAndGlyphs">Na<tspan font-size="8.5" baseline-shift="4.48">+</tspan></text>
<text x="487.5" y="491.75" font-size="11.8" font-weight="bold" font-style="italic" fill="#141414" textLength="38.8" lengthAdjust="spacingAndGlyphs">Na<tspan font-size="8.5" baseline-shift="-3.3">2</tspan>S<tspan font-size="8.5" baseline-shift="-3.3">4</tspan></text>
<text x="511.3" y="541.25" font-size="11.8" font-weight="bold" font-style="italic" fill="#141414" textLength="23.8" lengthAdjust="spacingAndGlyphs">Na<tspan font-size="8.5" baseline-shift="4.48">+</tspan></text>
<text x="491.3" y="582.25" font-size="11.8" font-weight="bold" font-style="italic" fill="#141414" textLength="40" lengthAdjust="spacingAndGlyphs">Na<tspan font-size="8.5" baseline-shift="-3.3">2</tspan>S<tspan font-size="8.5" baseline-shift="-3.3">4</tspan></text>
<text x="619" y="583.55" font-size="11.8" font-weight="bold" font-style="italic" fill="#141414" textLength="33.8" lengthAdjust="spacingAndGlyphs">Na<tspan font-size="8.5" baseline-shift="-3.3">2</tspan>S</text>
<text x="616" y="456.45" font-size="11.8" text-anchor="start" fill="#141414" font-weight="bold" textLength="35" lengthAdjust="spacingAndGlyphs">M off</text>
<text x="621" y="547.25" font-size="11.8" text-anchor="start" fill="#141414" font-weight="bold" textLength="33" lengthAdjust="spacingAndGlyphs">M on</text>
<text x="573" y="569.82" font-size="12" font-weight="bold" fill="#141414">e<tspan font-size="8.64" baseline-shift="4.56">-</tspan></text>
<path d="M11,5 C8.5,2.2 2,2.5 1.9,8.8 C1.8,14.2 8.5,15.3 11,11.5 M11.2,3.3 L11.1,12.6 C11.1,13.6 11.7,14.1 12.4,14.2" fill="none" stroke="#000" stroke-width="1.9" stroke-linecap="round" stroke-linejoin="round"/>
<path d="M3.4,196.6 L3.4,214.6 M3.4,205.5 C6,201 13.9,201.5 13.9,208.3 C13.9,215 6,216 3.4,212" fill="none" stroke="#000" stroke-width="1.9" stroke-linecap="round" stroke-linejoin="round"/>
<path d="M11.9,417.6 C10.6,414.6 3.6,414.2 2.6,421.2 C1.8,428 8.6,429.4 11.8,426.2" fill="none" stroke="#000" stroke-width="2.0" stroke-linecap="round" stroke-linejoin="round"/>
<path d="M253,2 L253,19.7 M253,11 C250.5,7.5 243,8 243,14.3 C243,20.5 250.5,21 253,17.5" fill="none" stroke="#000" stroke-width="1.9" stroke-linecap="round" stroke-linejoin="round"/>
<path d="M243,209.5 C247,209 253.2,206.5 253.2,204.2 C253.2,201.5 247,201.5 244.5,205 C242,208.5 242,213.5 245.5,215 C248,216 251.5,214.5 253.2,212.8" fill="none" stroke="#000" stroke-width="1.9" stroke-linecap="round" stroke-linejoin="round"/>
<path d="M246,428.5 L246.5,414 C246.6,410 249,409 251.6,409.2 M242,416.5 L251.5,416.3" fill="none" stroke="#000" stroke-width="1.9" stroke-linecap="round" stroke-linejoin="round"/>
<path d="M483.5,11 C481,7.5 473.5,7.8 473,14.3 C472.6,20 480,21 482.8,16.8 M483.8,9 C483.6,14 483,19 482.2,22.3 C481.5,25.5 477,26 472.8,25.3" fill="none" stroke="#000" stroke-width="1.9" stroke-linecap="round" stroke-linejoin="round"/>
<path d="M478.9,196.3 L478.9,214 M478.9,207 C480.5,203.5 487.6,202 487.8,208 L488,214.5" fill="none" stroke="#000" stroke-width="1.9" stroke-linecap="round" stroke-linejoin="round"/>
<circle cx="479.9" cy="410.8" r="1.3" fill="#000"/>
<path d="M479.6,416 L479.3,426.6" fill="none" stroke="#000" stroke-width="2.0" stroke-linecap="round" stroke-linejoin="round"/>
</svg>
</body></html>
